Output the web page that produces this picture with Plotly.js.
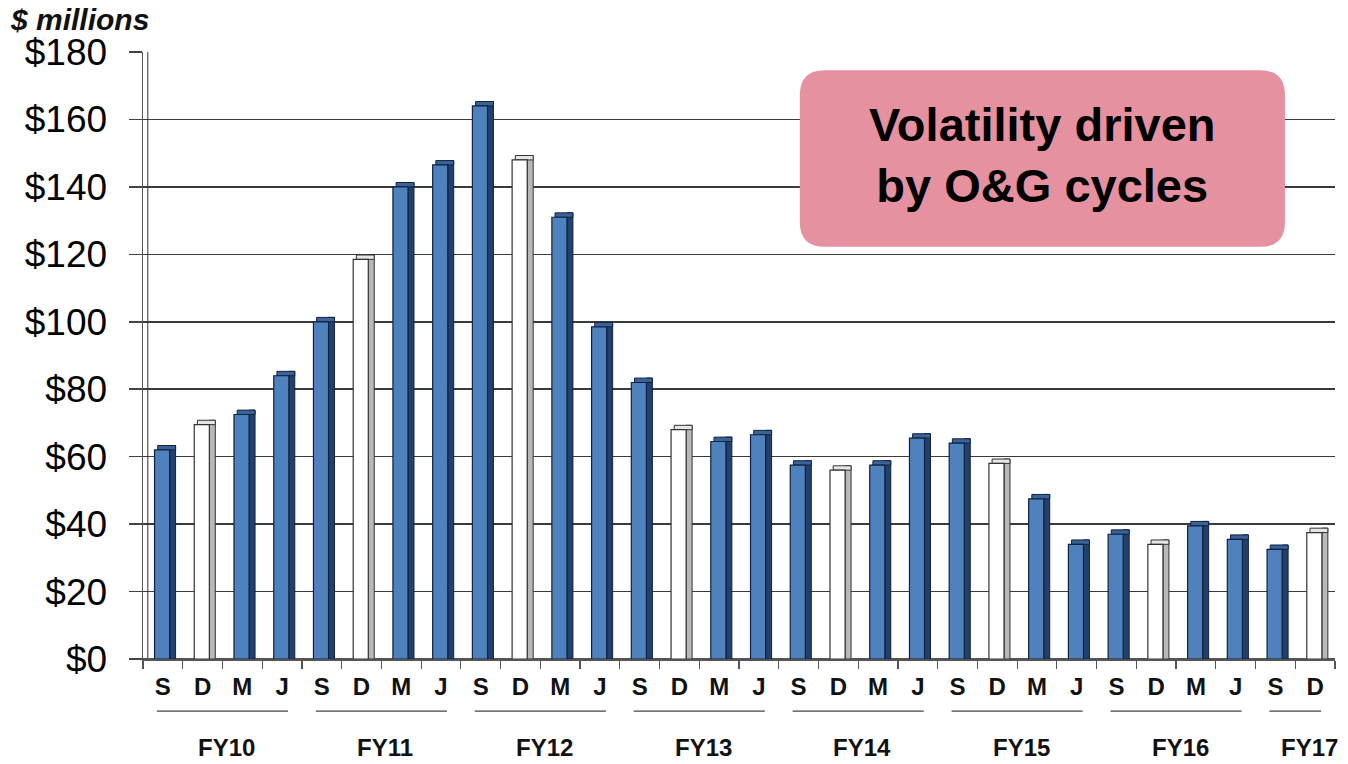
<!DOCTYPE html>
<html>
<head>
<meta charset="utf-8">
<script src="https://cdn.plot.ly/plotly-3.0.1.min.js"></script>
<style>
  html, body { margin: 0; padding: 0; background: #ffffff; }
  #chart { width: 1348px; height: 764px; }
</style>
</head>
<body>
<div id="chart"></div>
<script>
// ---- data ----
const fiscalYears = ["FY10", "FY11", "FY12", "FY13", "FY14", "FY15", "FY16", "FY17"];
const quarterLabels = [
  "S","D","M","J", "S","D","M","J", "S","D","M","J", "S","D","M","J",
  "S","D","M","J", "S","D","M","J", "S","D","M","J", "S","D"
];
const yearOfBar = [
  "FY10","FY10","FY10","FY10", "FY11","FY11","FY11","FY11",
  "FY12","FY12","FY12","FY12", "FY13","FY13","FY13","FY13",
  "FY14","FY14","FY14","FY14", "FY15","FY15","FY15","FY15",
  "FY16","FY16","FY16","FY16", "FY17","FY17"
];
const revenue = [
  62, 69.5, 72.5, 84,
  100, 118.5, 140, 146.5,
  164, 148, 131, 98.5,
  82, 68, 64.5, 66.5,
  57.5, 56, 57.5, 65.5,
  64, 58, 47.5, 34,
  37, 34, 39.5, 35.5,
  32.5, 37.5
];
const yTicks = [0, 20, 40, 60, 80, 100, 120, 140, 160, 180];
const yTickLabels = ["$0", "$20", "$40", "$60", "$80", "$100", "$120", "$140", "$160", "$180"];
const calloutText = "Volatility driven<br>by O&G cycles";
const yUnitText = "$ millions";

// ---- styling ----
const FONT = "Liberation Sans, Arial, sans-serif";
const BLUE_FRONT = "#4F81BD";
const BLUE_SIDE  = "#22406E";
const BLUE_TOP   = "#3A6399";
const WHITE_FRONT = "#FFFFFF";
const WHITE_SIDE  = "#B8B8B8";
const WHITE_TOP   = "#E6E6E6";
const EDGE_BLUE  = "#10223F";
const EDGE_WHITE = "#333333";
const CAP = 1.3; // visual depth of the bar top, in axis units

const xs = revenue.map((_, i) => i);
const isWhite = quarterLabels.map(q => q === "D");
const frontColors = isWhite.map(w => w ? WHITE_FRONT : BLUE_FRONT);
const sideColors  = isWhite.map(w => w ? WHITE_SIDE : BLUE_SIDE);
const topColors   = isWhite.map(w => w ? WHITE_TOP : BLUE_TOP);
const edgeColors  = isWhite.map(w => w ? EDGE_WHITE : EDGE_BLUE);

const sideTrace = {
  type: "bar", x: xs, y: revenue.map(v => v + CAP),
  width: 0.15, offset: 0.17,
  marker: { color: sideColors, line: { color: edgeColors, width: 1 } },
  hoverinfo: "skip", showlegend: false
};
const topTrace = {
  type: "bar", x: xs, y: revenue.map(() => CAP), base: revenue,
  width: 0.45, offset: -0.13,
  marker: { color: topColors, line: { color: edgeColors, width: 1 } },
  hoverinfo: "skip", showlegend: false
};
const frontTrace = {
  type: "bar", x: xs, y: revenue,
  width: 0.38, offset: -0.21,
  marker: { color: frontColors, line: { color: edgeColors, width: 1.2 } },
  hovertemplate: "%{y}<extra></extra>", showlegend: false
};

// ---- group labels and underlines, derived from the data ----
const annotations = [];
const shapes = [];
fiscalYears.forEach(fy => {
  const idx = yearOfBar.map((y, i) => y === fy ? i : -1).filter(i => i >= 0);
  const first = idx[0], last = idx[idx.length - 1];
  const mid = (first + last) / 2;
  annotations.push({
    text: "<b>" + fy + "</b>", x: mid + (idx.length < 4 ? 0.35 : 0.1), xref: "x",
    y: -0.145, yref: "paper", showarrow: false,
    font: { family: FONT, size: 24, color: "#111" },
    xanchor: "center", yanchor: "middle"
  });
  shapes.push({
    type: "line", xref: "x", yref: "paper",
    x0: first - 0.15, x1: last + 0.15, y0: -0.086, y1: -0.086,
    line: { color: "#444", width: 1.3 }
  });
});

annotations.push({
  text: "<b><i>" + yUnitText + "</i></b>", xref: "paper", yref: "paper",
  x: -0.113, y: 1.053, xanchor: "left", yanchor: "middle", showarrow: false,
  font: { family: FONT, size: 30, color: "#111" }
});

// callout box with rounded corners (paper coordinates)
const bx0 = 0.551, bx1 = 0.958, by0 = 0.679, by1 = 0.970;
const rx = 0.021, ry = 0.041;
shapes.push({
  type: "path", xref: "paper", yref: "paper", layer: "above",
  path: `M ${bx0+rx},${by0} L ${bx1-rx},${by0} Q ${bx1},${by0} ${bx1},${by0+ry} ` +
        `L ${bx1},${by1-ry} Q ${bx1},${by1} ${bx1-rx},${by1} ` +
        `L ${bx0+rx},${by1} Q ${bx0},${by1} ${bx0},${by1-ry} ` +
        `L ${bx0},${by0+ry} Q ${bx0},${by0} ${bx0+rx},${by0} Z`,
  fillcolor: "#E5919F", line: { width: 0 }
});
annotations.push({
  text: "<b>" + calloutText + "</b>", xref: "paper", yref: "paper",
  x: (bx0 + bx1) / 2, y: (by0 + by1) / 2 + 0.005, xanchor: "center", yanchor: "middle",
  showarrow: false, align: "center",
  font: { family: FONT, size: 47, color: "#000" }
});

// back wall second vertical line (3D look)
shapes.push({
  type: "line", xref: "paper", yref: "paper", x0: 0.004, x1: 0.004, y0: 0, y1: 1,
  line: { color: "#555", width: 1.2 }, layer: "below"
});

const layout = {
  width: 1348, height: 764,
  margin: { l: 143, r: 13, t: 52, b: 105 },
  paper_bgcolor: "#ffffff", plot_bgcolor: "#ffffff",
  barmode: "overlay",
  font: { family: FONT, color: "#000" },
  xaxis: {
    range: [-0.5, xs.length - 0.5],
    tickvals: xs, ticktext: quarterLabels.map(q => "<b>" + q + "</b>"),
    tickfont: { size: 24, color: "#111" }, ticklabelstandoff: 6,
    ticks: "", showgrid: false, zeroline: false,
    showline: true, linecolor: "#555", linewidth: 1.5,
    minor: { tick0: -0.5, dtick: 1, ticks: "outside", ticklen: 8, tickcolor: "#555", tickwidth: 1.2, showgrid: false }
  },
  yaxis: {
    range: [0, 180], tickvals: yTicks, ticktext: yTickLabels,
    tickfont: { size: 37, color: "#000" }, ticklabelstandoff: 14,
    ticks: "outside", ticklen: 13, tickcolor: "#444", tickwidth: 1.5,
    showgrid: true, gridcolor: "#3a3a3a", gridwidth: 1.5,
    showline: true, linecolor: "#555", linewidth: 1.5,
    zeroline: true, zerolinecolor: "#555", zerolinewidth: 1.5
  },
  annotations: annotations,
  shapes: shapes
};

Plotly.newPlot("chart", [sideTrace, topTrace, frontTrace], layout, { displayModeBar: false, staticPlot: true });
</script>
</body>
</html>
